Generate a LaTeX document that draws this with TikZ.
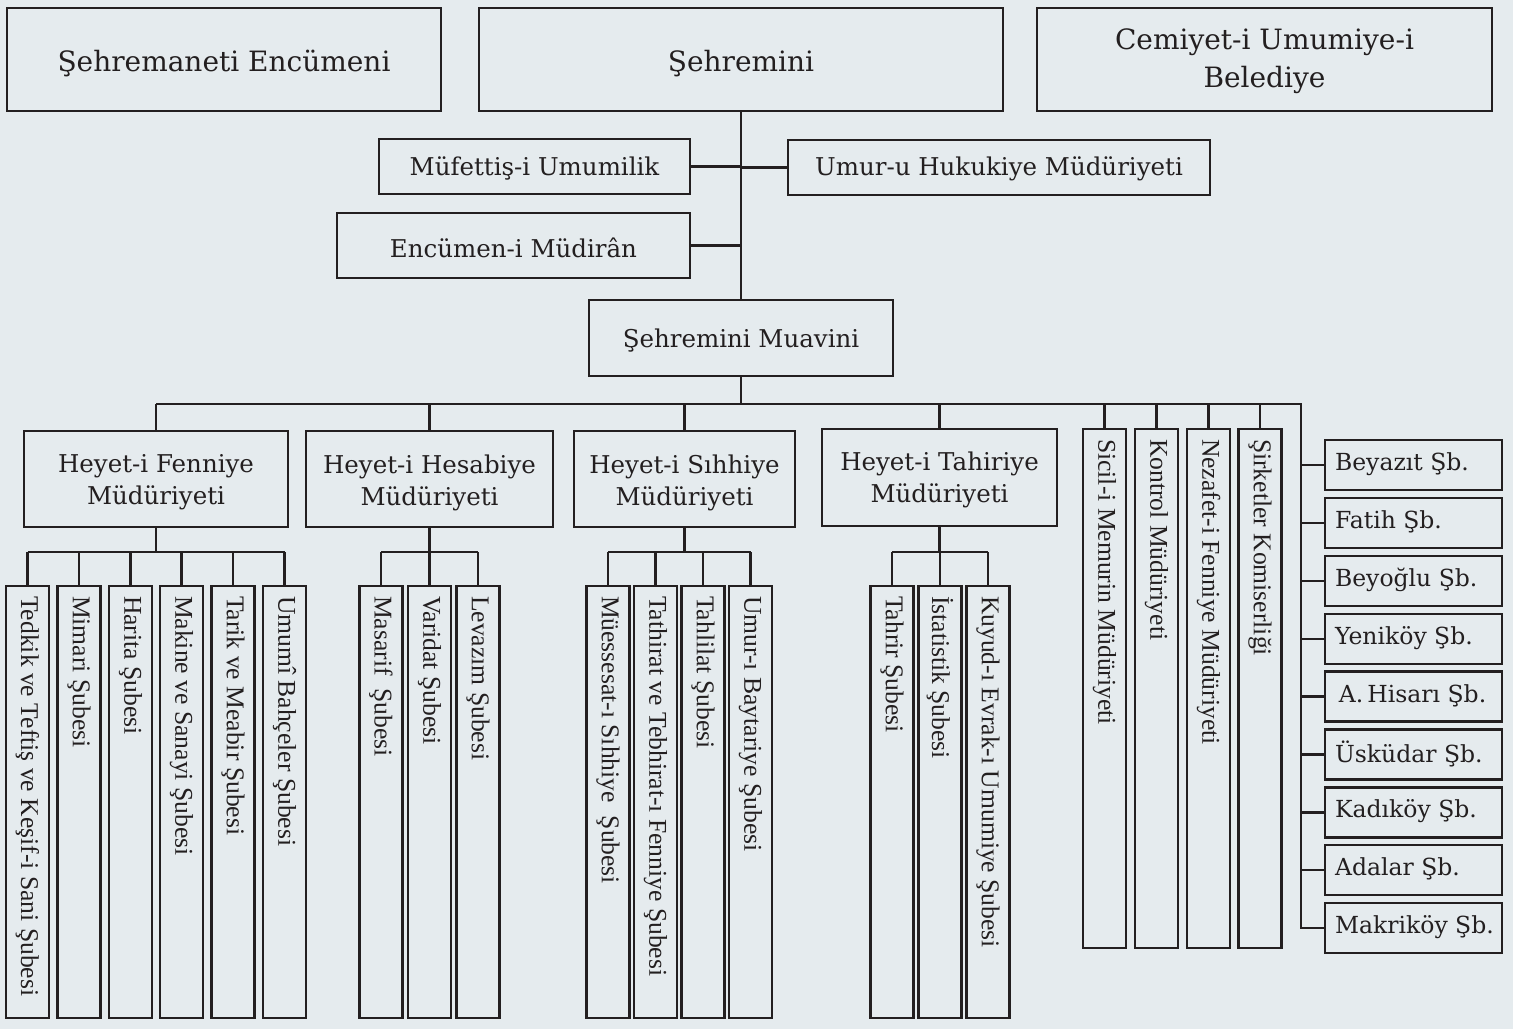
\documentclass[tikz,border=0pt]{standalone}
\usepackage{fontspec}
\setmainfont{DejaVu Serif}
\newfontfamily\vfont{Liberation Serif}
\usetikzlibrary{calc}
\definecolor{bgc}{HTML}{E5EBEE}
\definecolor{ink}{HTML}{231F20}
\begin{document}
\begin{tikzpicture}[x=1pt,y=-1pt,
  every node/.style={text=ink},
  box/.style={draw=ink, line width=2.3pt, inner sep=0pt, rectangle},
  bigtxt/.style={font=\fontsize{28}{38}\selectfont, align=center, inner sep=0pt},
  midtxt/.style={font=\fontsize{24.5}{32}\selectfont, align=center, inner sep=0pt},
  vtxt/.style={font=\vfont\fontsize{25.6}{30}\selectfont, rotate=-90, anchor=west, inner sep=0pt},
  sbtxt/.style={font=\fontsize{23.5}{30}\selectfont, anchor=west, inner sep=0pt},
  link/.style={draw=ink, line width=2.3pt},
]
\fill[bgc] (0,0) rectangle (1513,1029);
\useasboundingbox (0,0) rectangle (1513,1029);

% top row and staff boxes: name/x/y/w/h/style/shift/text
\foreach \n/\x/\y/\w/\h/\s/\d/\t in {
  enc/224/59.5/434/103/bigtxt/4/{Şehremaneti Encümeni},
  sehr/741/59.5/524/103/bigtxt/4/{Şehremini},
  cem/1264.5/59.5/455/103/bigtxt/2/{Cemiyet-i Umumiye-i\\Belediye},
  muf/534.5/166.5/311/55/midtxt/1.5/{Müfettiş-i Umumilik},
  umur/999/167.5/422/55/midtxt/1.5/{Umur-u Hukukiye Müdüriyeti},
  encm/513.5/245.5/353/65/midtxt/2/{Encümen-i Müdirân},
  muav/741/338/304/76/midtxt/3/{Şehremini Muavini},
  fen/156/479/264/96/midtxt/3.5/{Heyet-i Fenniye\\Müdüriyeti},
  hes/429.5/479/247/96/midtxt/3.5/{Heyet-i Hesabiye\\Müdüriyeti},
  sih/684.5/479/221/96/midtxt/3.5/{Heyet-i Sıhhiye\\Müdüriyeti},
  tah/939.5/477.5/235/97/midtxt/2/{Heyet-i Tahiriye\\Müdüriyeti}}{
  \node[box, minimum width=\w pt, minimum height=\h pt] (\n) at (\x,\y) {};
  \node[\s] (\n-t) at ($(\n.center)+(0,\d)$) {\t};
}

\draw[link] (sehr.south) -- (muav.north);
\draw[link] (muf.east) -- (muf.east -| sehr.south);
\draw[link] (umur.west) -- (umur.west -| sehr.south);
\draw[link] (encm.east) -- (encm.east -| sehr.south);

% direct vertical boxes
\foreach \n/\x/\t in {sic/1104.5/Sicil-i Memurin Müdüriyeti, kon/1156.5/Kontrol Müdüriyeti, nez/1208.5/Nezafet-i Fenniye Müdüriyeti, sir/1260/Şirketler Komiserliği}{
  \node[box, minimum width=43pt, minimum height=519pt] (\n) at (\x,688.5) {};
  \node[vtxt] (\n-t) at ($(\n.north)+(0,11)$) {\t};
}

% branch boxes
\foreach \n/\k/\t in {bey/0/Beyazıt Şb., fat/1/Fatih Şb., beo/2/Beyoğlu Şb., yen/3/Yeniköy Şb., ahi/4/{\,A.\,Hisarı Şb.}, usk/5/Üsküdar Şb., kad/6/Kadıköy Şb., ada/7/Adalar Şb., mak/8/Makriköy Şb.}{
  \node[box, minimum width=177pt, minimum height=50pt] (\n) at (1413.5,{465+57.9*\k}) {};
  \node[sbtxt] (\n-t) at ($(\n.west)+(11,-1)$) {\t};
}

% main bus
\coordinate (busL) at (156,404);
\coordinate (busR) at (1301,404);
\draw[link] (muav.south) -- (muav.south |- busL);
\draw[link, line join=miter] (fen.north |- busL) -- (busR) -- (busR |- mak.west) -- (mak.west);
\foreach \n in {fen,hes,sih,tah,sic,kon,nez,sir}{
  \draw[link] (\n.north |- busL) -- (\n.north);
}
\foreach \n in {bey,fat,beo,yen,ahi,usk,kad,ada}{
  \draw[link] (busR |- \n.west) -- (\n.west);
}

% sub boxes
\foreach \n/\x/\t in {
  f1/27.5/Tedkik ve Teftiş ve Keşif-i Sani Şubesi,
  f2/79/Mimari Şubesi,
  f3/130.5/Harita Şubesi,
  f4/181.5/Makine ve Sanayi Şubesi,
  f5/233/Tarik ve Meabir Şubesi,
  f6/284.5/Umumî Bahçeler Şubesi,
  h1/381/Masarif~ Şubesi,
  h2/429.5/Varidat Şubesi,
  h3/478/Levazım Şubesi,
  s1/608/Müessesat-ı Sıhhiye~ Şubesi,
  s2/655.5/Tathirat ve Tebhirat-ı Fenniye Şubesi,
  s3/703/Tahlilat Şubesi,
  s4/750.5/Umur-ı Baytariye Şubesi,
  t1/892/Tahrir Şubesi,
  t2/940/İstatistik Şubesi,
  t3/988/Kuyud-ı Evrak-ı Umumiye Şubesi}{
  \node[box, minimum width=43pt, minimum height=432pt] (\n) at (\x,802) {};
  \node[vtxt] (\n-t) at ($(\n.north)+(0,11)$) {\t};
}

% sub buses
\foreach \p/\a/\b/\lst in {fen/f1/f6/{f1,f2,f3,f4,f5,f6}, hes/h1/h3/{h1,h2,h3}, sih/s1/s4/{s1,s2,s3,s4}, tah/t1/t3/{t1,t2,t3}}{
  \coordinate (\p-bus) at (\p.south |- 0,552);
  \draw[link] (\p.south) -- (\p-bus);
  \draw[link] (\a.north |- \p-bus) -- (\b.north |- \p-bus);
  \foreach \s in \lst { \draw[link] (\s.north |- \p-bus) -- (\s.north); }
}
\end{tikzpicture}
\end{document}
